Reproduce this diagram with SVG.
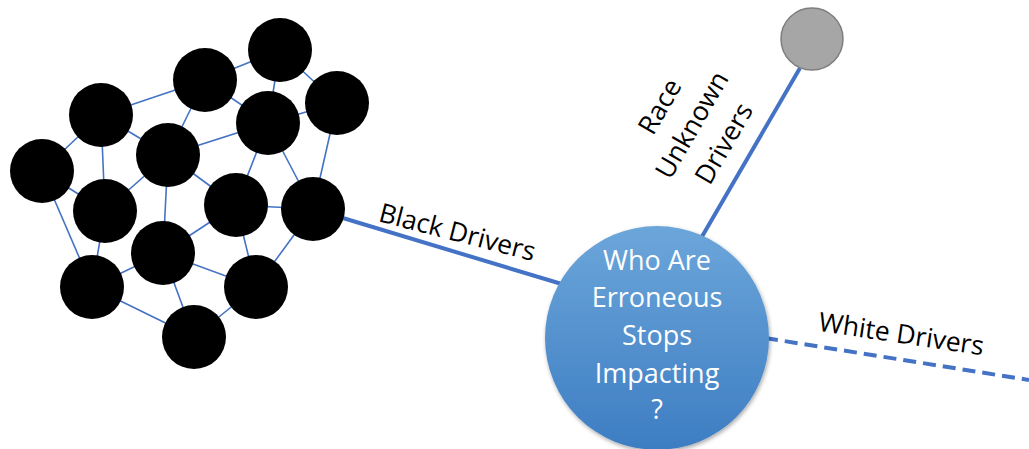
<svg xmlns="http://www.w3.org/2000/svg" width="1029" height="449" viewBox="0 0 1029 449">
<style>
.net{stroke:#4472C4;stroke-width:1.6;fill:none}
.main{stroke:#4472C4;stroke-width:4;fill:none}
.dash{stroke:#4472C4;stroke-width:4;fill:none;stroke-dasharray:13 7}
.blk{fill:#000}
.lbl{font-family:"Open Sans","Liberation Sans",sans-serif;font-size:26.5px;fill:#000}
.ctr{font-family:"Open Sans","Liberation Sans",sans-serif;font-size:27px;fill:#fff;text-anchor:middle}
</style>
<defs>
<linearGradient id="g" x1="0" y1="0" x2="0" y2="1">
<stop offset="0" stop-color="#6CA6DA"/>
<stop offset="1" stop-color="#3D7DC2"/>
</linearGradient>
<filter id="sh" x="-20%" y="-20%" width="140%" height="140%">
<feGaussianBlur in="SourceAlpha" stdDeviation="2"/>
<feOffset dx="1" dy="2"/>
<feComponentTransfer><feFuncA type="linear" slope="0.35"/></feComponentTransfer>
<feMerge><feMergeNode/><feMergeNode in="SourceGraphic"/></feMerge>
</filter>
</defs>
<rect width="1029" height="449" fill="#fff"/>
<g id="connectors">
<g class="net">
<line x1="205" y1="80" x2="280" y2="50"/>
<line x1="280" y1="50" x2="337" y2="103"/>
<line x1="280" y1="50" x2="268" y2="123"/>
<line x1="205" y1="80" x2="101" y2="115"/>
<line x1="205" y1="80" x2="268" y2="123"/>
<line x1="205" y1="80" x2="168" y2="155"/>
<line x1="101" y1="115" x2="168" y2="155"/>
<line x1="101" y1="115" x2="42" y2="171"/>
<line x1="101" y1="115" x2="105" y2="211"/>
<line x1="268" y1="123" x2="337" y2="103"/>
<line x1="268" y1="123" x2="168" y2="155"/>
<line x1="268" y1="123" x2="236" y2="205"/>
<line x1="268" y1="123" x2="313" y2="209"/>
<line x1="337" y1="103" x2="313" y2="209"/>
<line x1="168" y1="155" x2="105" y2="211"/>
<line x1="168" y1="155" x2="236" y2="205"/>
<line x1="168" y1="155" x2="163" y2="253"/>
<line x1="42" y1="171" x2="105" y2="211"/>
<line x1="42" y1="171" x2="92" y2="287"/>
<line x1="105" y1="211" x2="92" y2="287"/>
<line x1="236" y1="205" x2="313" y2="209"/>
<line x1="236" y1="205" x2="163" y2="253"/>
<line x1="236" y1="205" x2="256" y2="287"/>
<line x1="313" y1="209" x2="256" y2="287"/>
<line x1="163" y1="253" x2="92" y2="287"/>
<line x1="163" y1="253" x2="256" y2="287"/>
<line x1="163" y1="253" x2="194" y2="337"/>
<line x1="92" y1="287" x2="194" y2="337"/>
<line x1="256" y1="287" x2="194" y2="337"/>
</g>
<line class="main" x1="313" y1="209" x2="575" y2="288"/>
<line class="main" x1="800" y1="68" x2="700" y2="240"/>
<line class="dash" x1="765" y1="338" x2="1029" y2="380"/>
</g>
<g id="cluster">
<circle class="blk" cx="280" cy="50" r="32"/>
<circle class="blk" cx="205" cy="80" r="32"/>
<circle class="blk" cx="337" cy="103" r="32"/>
<circle class="blk" cx="101" cy="115" r="32"/>
<circle class="blk" cx="268" cy="123" r="32"/>
<circle class="blk" cx="168" cy="155" r="32"/>
<circle class="blk" cx="42" cy="171" r="32"/>
<circle class="blk" cx="105" cy="211" r="32"/>
<circle class="blk" cx="236" cy="205" r="32"/>
<circle class="blk" cx="313" cy="209" r="32"/>
<circle class="blk" cx="163" cy="253" r="32"/>
<circle class="blk" cx="92" cy="287" r="32"/>
<circle class="blk" cx="256" cy="287" r="32"/>
<circle class="blk" cx="194" cy="337" r="32"/>
</g>
<g id="unknown">
<circle cx="812" cy="39" r="31" fill="#A6A6A6" stroke="#7F7F7F" stroke-width="1.5"/>
</g>
<g id="center">
<circle cx="657" cy="338" r="112" fill="url(#g)" filter="url(#sh)"/>
<text class="ctr" x="657" y="270">Who Are</text>
<text class="ctr" x="657" y="307">Erroneous</text>
<text class="ctr" x="657" y="345">Stops</text>
<text class="ctr" x="657" y="383">Impacting</text>
<text class="ctr" x="657" y="419">?</text>
</g>
<g id="labels">
<text class="lbl" text-anchor="middle" transform="translate(455,241) rotate(14.5)">Black Drivers</text>
<text class="lbl" text-anchor="middle" transform="translate(900,343) rotate(8.5)">White Drivers</text>
<g transform="translate(692,125) rotate(-60)">
<text class="lbl" text-anchor="middle" x="0" y="-28">Race</text>
<text class="lbl" text-anchor="middle" x="0" y="9">Unknown</text>
<text class="lbl" text-anchor="middle" x="0" y="46">Drivers</text>
</g>
</g>
</svg>
